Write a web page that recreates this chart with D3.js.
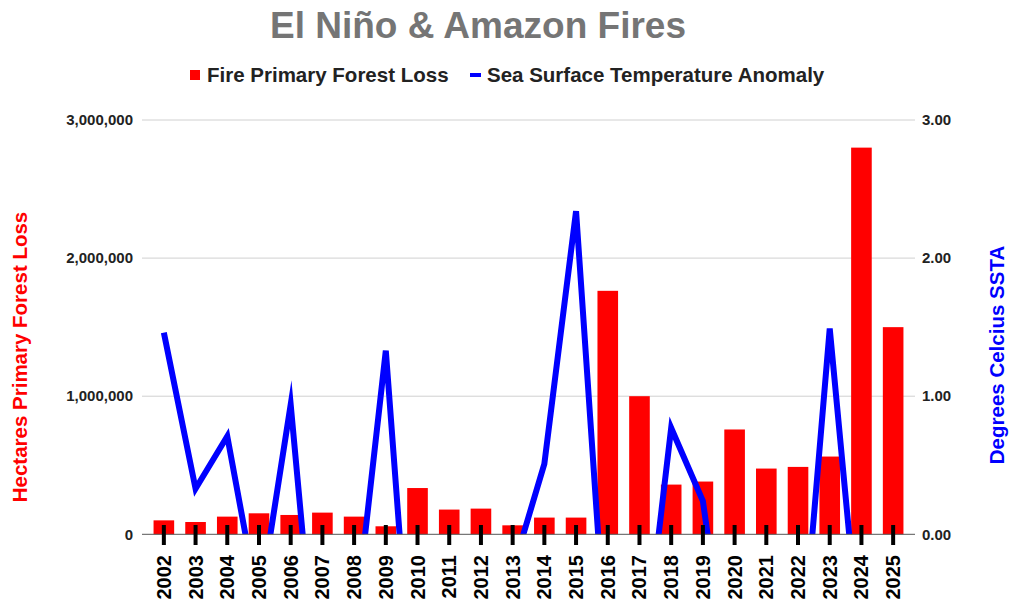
<!DOCTYPE html>
<html>
<head>
<meta charset="utf-8">
<script src="https://cdn.jsdelivr.net/npm/d3@7/dist/d3.min.js"></script>
<style>
  body { margin: 0; background: #fff; }
  svg { display: block; font-family: "Liberation Sans", Arial, sans-serif; }
</style>
</head>
<body>
<svg id="chart" width="1024" height="608"></svg>
<script>
// Chart data
const years = ['2002', '2003', '2004', '2005', '2006', '2007', '2008', '2009', '2010', '2011', '2012', '2013',
  '2014', '2015', '2016', '2017', '2018', '2019', '2020', '2021', '2022', '2023', '2024', '2025'];

// Hectares of primary forest lost to fire
const fireLoss = [101000, 89000, 128000, 152000, 140000, 157000, 128000, 58000, 335000, 179000, 186000, 65000,
  121000, 121000, 1763000, 1000000, 360000, 382000, 759000, 476000, 488000, 563000, 2800000, 1500000];

// Sea surface temperature anomaly (deg C); negatives fall below the chart floor
const ssta = [1.46, 0.33, 0.71, -0.53, 0.94, -1.55, -0.71, 1.33, -1.73, -1.1, -0.3, -0.26,
  0.51, 2.34, -1.02, -1.18, 0.77, 0.24, -1.38, -1.0, -1.23, 1.49, -0.94, null];

const leftTicks = [0, 1000000, 2000000, 3000000];
const rightTicks = [0, 1, 2, 3];

const svg = d3.select('#chart');
const plot = { left: 142, right: 915, top: 120, bottom: 534.3 };

// Scales
const x = d3.scaleBand()
  .domain(years)
  .range([148, 909])
  .paddingInner(0.35)
  .paddingOuter(0.175);

const yLeft = d3.scaleLinear().domain([0, 3000000]).range([plot.bottom, plot.top]);
const yRight = d3.scaleLinear().domain([0, 3]).range([plot.bottom, plot.top]);

const bold = 'bold';

// Title
svg.append('text')
  .attr('x', 478)
  .attr('y', 38)
  .attr('text-anchor', 'middle')
  .attr('font-size', 37)
  .attr('font-weight', bold)
  .attr('fill', '#757575')
  .text('El Niño & Amazon Fires');

// Legend
const legend = svg.append('g').attr('class', 'legend');
legend.append('rect')
  .attr('x', 190).attr('y', 70).attr('width', 10).attr('height', 10)
  .attr('fill', '#ff0000');
legend.append('text')
  .attr('x', 207).attr('y', 82)
  .attr('font-size', 20.5).attr('font-weight', bold).attr('fill', '#222')
  .text('Fire Primary Forest Loss');
legend.append('rect')
  .attr('x', 470).attr('y', 73).attr('width', 11).attr('height', 4)
  .attr('fill', '#0000ff');
legend.append('text')
  .attr('x', 487).attr('y', 82)
  .attr('font-size', 20.5).attr('font-weight', bold).attr('fill', '#222')
  .text('Sea Surface Temperature Anomaly');

// Gridlines
svg.append('g').attr('class', 'grid')
  .selectAll('line')
  .data(leftTicks.filter(d => d > 0))
  .join('line')
  .attr('x1', plot.left).attr('x2', plot.right)
  .attr('y1', d => yLeft(d)).attr('y2', d => yLeft(d))
  .attr('stroke', '#d0d0d0')
  .attr('stroke-width', 1);

// Left axis labels
svg.append('g').attr('class', 'axis-left')
  .selectAll('text')
  .data(leftTicks)
  .join('text')
  .attr('x', 133)
  .attr('y', d => yLeft(d))
  .attr('dy', '0.35em')
  .attr('text-anchor', 'end')
  .attr('font-size', 15).attr('font-weight', bold).attr('fill', '#222')
  .text(d => d3.format(',')(d));

// Right axis labels
svg.append('g').attr('class', 'axis-right')
  .selectAll('text')
  .data(rightTicks)
  .join('text')
  .attr('x', 922)
  .attr('y', d => yRight(d))
  .attr('dy', '0.35em')
  .attr('font-size', 15).attr('font-weight', bold).attr('fill', '#222')
  .text(d => d3.format('.2f')(d));

// Bars
svg.append('g').attr('class', 'bars')
  .selectAll('rect')
  .data(years.map((y, i) => ({ year: y, value: fireLoss[i] })))
  .join('rect')
  .attr('x', d => x(d.year))
  .attr('y', d => yLeft(d.value))
  .attr('width', x.bandwidth())
  .attr('height', d => plot.bottom - yLeft(d.value))
  .attr('fill', '#ff0000');

// SSTA line, clipped to the chart area
svg.append('defs').append('clipPath')
  .attr('id', 'plot-clip')
  .append('rect')
  .attr('x', plot.left).attr('y', plot.top)
  .attr('width', plot.right - plot.left)
  .attr('height', plot.bottom - plot.top);

const line = d3.line()
  .defined(d => d.value !== null)
  .x(d => x(d.year) + x.bandwidth() / 2)
  .y(d => yRight(d.value));

svg.append('path')
  .datum(years.map((y, i) => ({ year: y, value: ssta[i] })))
  .attr('clip-path', 'url(#plot-clip)')
  .attr('fill', 'none')
  .attr('stroke', '#0000ff')
  .attr('stroke-width', 6)
  .attr('stroke-miterlimit', 10)
  .attr('d', line);

// Baseline
svg.append('line')
  .attr('x1', plot.left).attr('x2', plot.right)
  .attr('y1', plot.bottom).attr('y2', plot.bottom)
  .attr('stroke', '#555')
  .attr('stroke-width', 1);

// X ticks and labels
const xAxis = svg.append('g').attr('class', 'axis-x');
xAxis.selectAll('line')
  .data(years)
  .join('line')
  .attr('x1', d => x(d) + x.bandwidth() / 2)
  .attr('x2', d => x(d) + x.bandwidth() / 2)
  .attr('y1', 525).attr('y2', 545)
  .attr('stroke', '#000')
  .attr('stroke-width', 4);

xAxis.selectAll('text')
  .data(years)
  .join('text')
  .attr('transform', d => `translate(${x(d) + x.bandwidth() / 2}, 555) rotate(-90)`)
  .attr('dy', '0.35em')
  .attr('text-anchor', 'end')
  .attr('font-size', 20).attr('font-weight', bold).attr('fill', '#000')
  .text(d => d);

// Axis titles
svg.append('text')
  .attr('transform', 'translate(20, 357) rotate(-90)')
  .attr('dy', '0.35em')
  .attr('text-anchor', 'middle')
  .attr('font-size', 20.5).attr('font-weight', bold).attr('fill', '#ff0000')
  .text('Hectares Primary Forest Loss');

svg.append('text')
  .attr('transform', 'translate(997, 355) rotate(-90)')
  .attr('dy', '0.35em')
  .attr('text-anchor', 'middle')
  .attr('font-size', 20.5).attr('font-weight', bold).attr('fill', '#0000ff')
  .text('Degrees Celcius SSTA');
</script>
</body>
</html>
